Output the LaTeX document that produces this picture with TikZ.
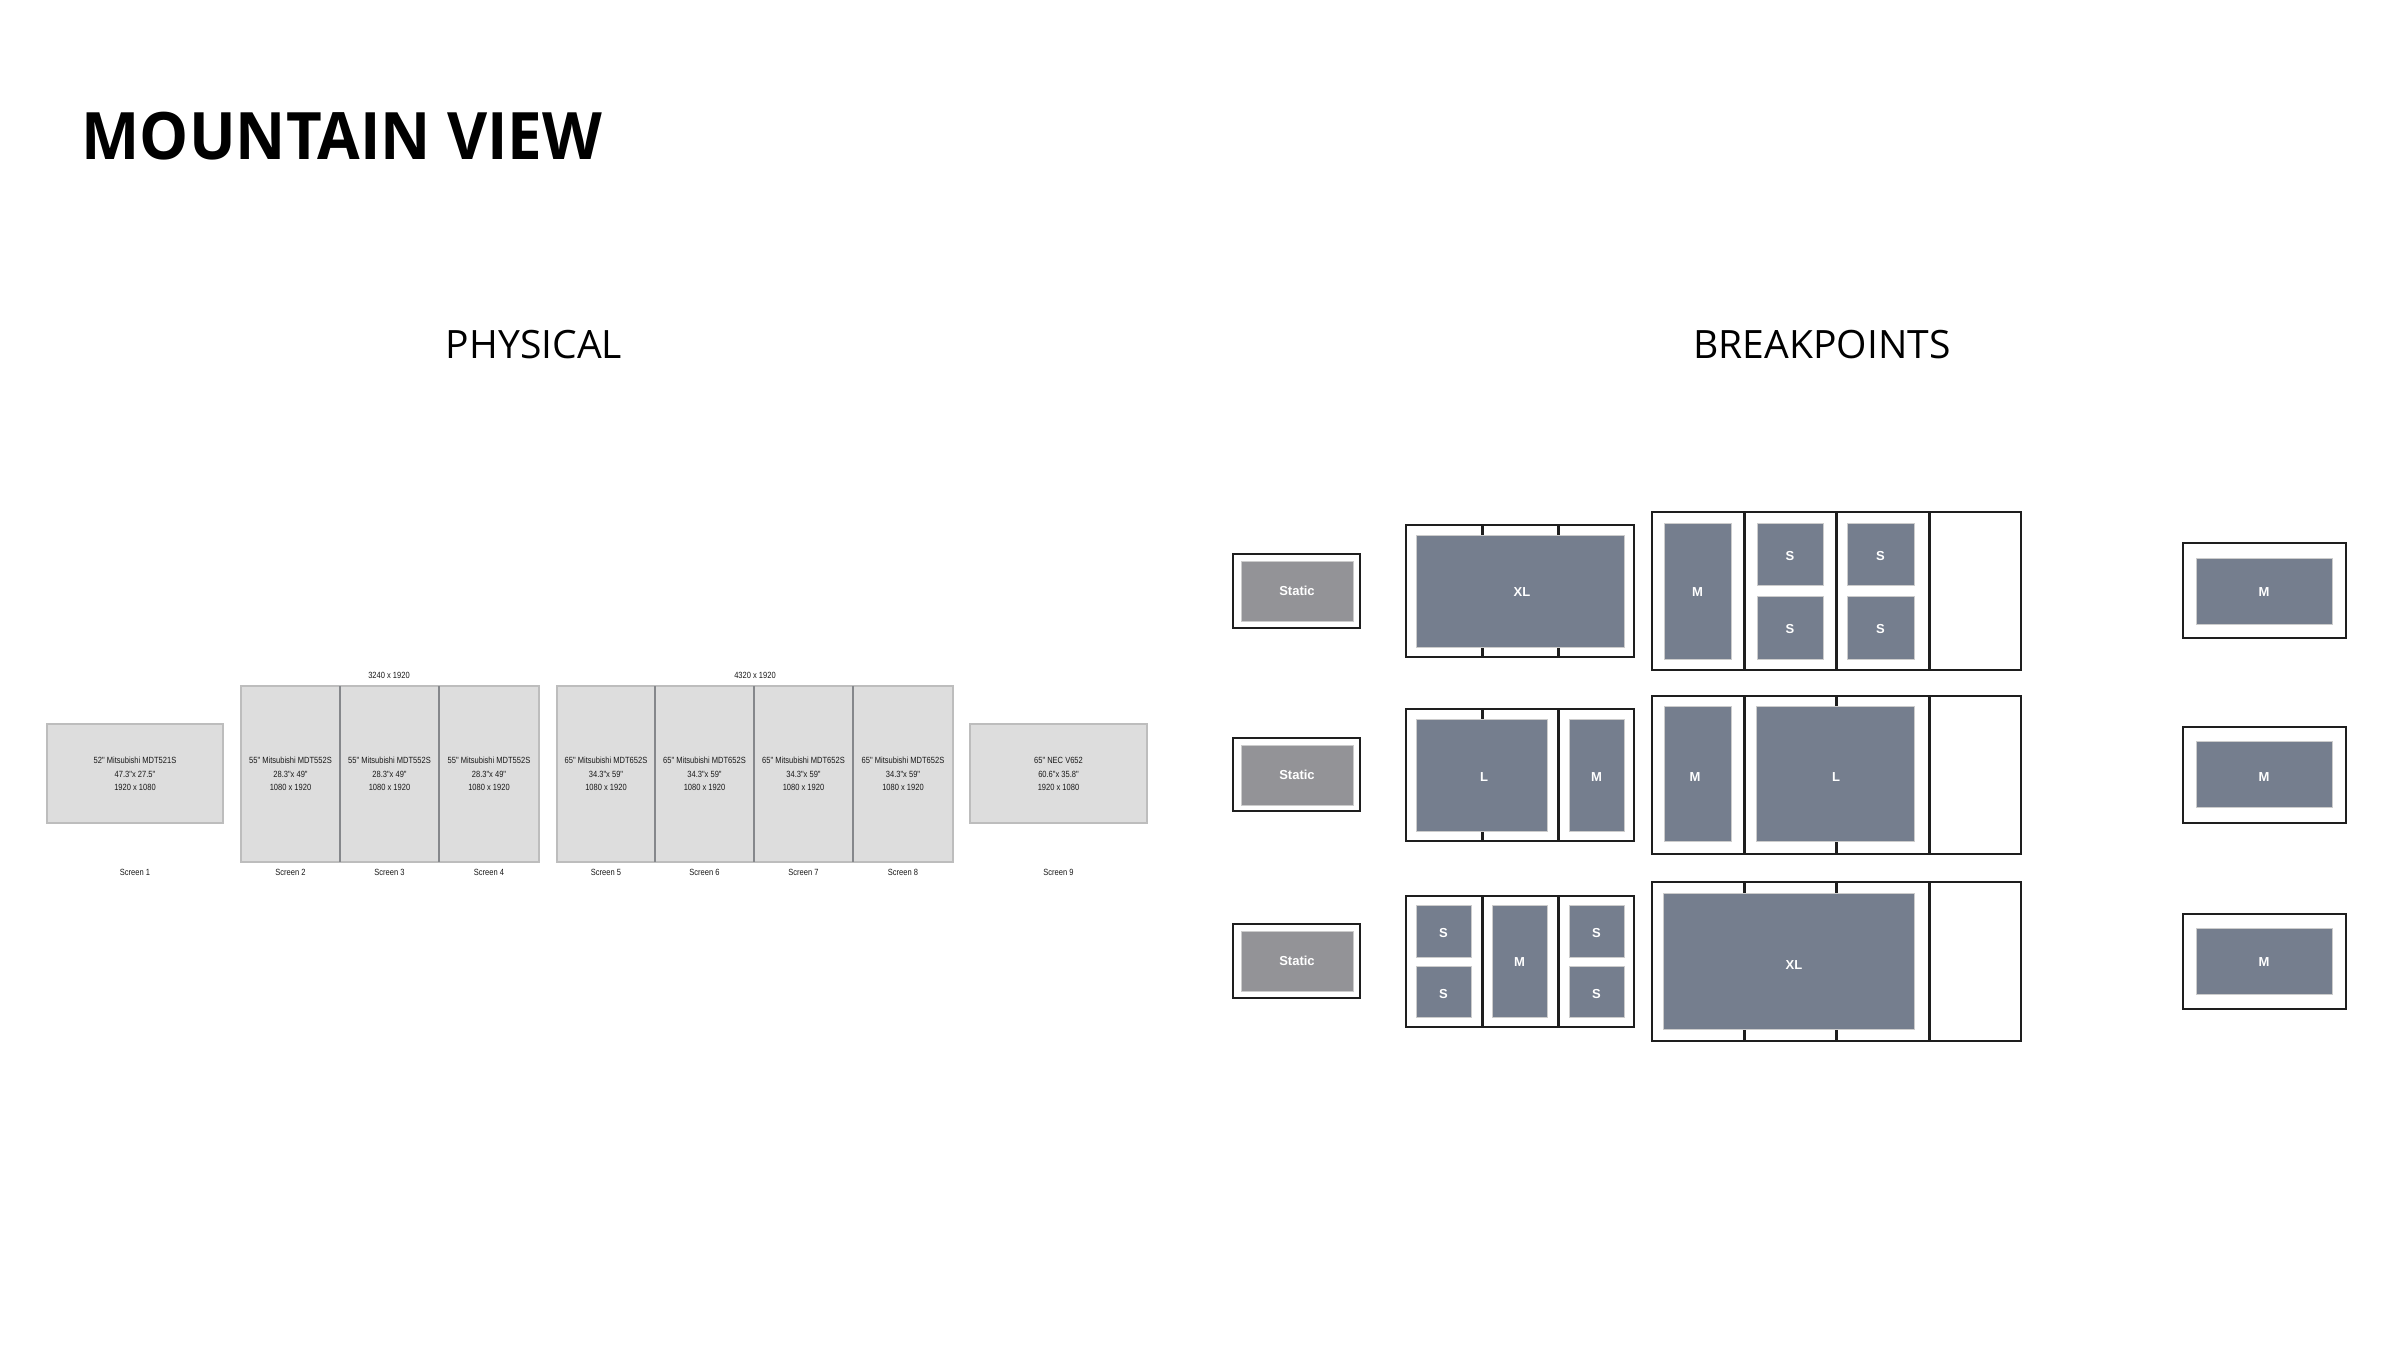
\documentclass[tikz,border=0pt]{standalone}
\usepackage{fontspec}
\setmainfont{Open Sans}
\newfontfamily\labfont{Liberation Sans}
\newfontfamily\narrowfont[FakeStretch=0.84]{Liberation Sans}
\definecolor{scrfill}{HTML}{DDDDDD}
\definecolor{scrline}{HTML}{BDBDBD}
\definecolor{scrdivc}{HTML}{85878B}
\definecolor{bpblue}{HTML}{757E8E}
\definecolor{statgray}{HTML}{939397}
\definecolor{frame}{HTML}{1E1E1E}
\tikzset{
  scr/.style={fill=scrfill, draw=scrline, line width=0.35pt},
  scrdiv/.style={draw=scrdivc, line width=0.35pt},
  spec/.style={font=\narrowfont\fontsize{2.55}{3.85}\selectfont, align=center, inner sep=0pt, text=black!90},
  small/.style={font=\narrowfont\fontsize{2.55}{3}\selectfont, inner sep=0pt, text=black!90},
  bpout/.style={draw=frame, fill=white, line width=0.5pt},
  bpdiv/.style={draw=frame, line width=0.85pt},
  bpin/.style={fill=bpblue, draw=black!20, line width=0.15pt},
  stin/.style={fill=statgray, draw=black!20, line width=0.15pt},
  bplab/.style={font=\labfont\bfseries\fontsize{3.7}{4}\selectfont, text=white, inner sep=0pt},
  head/.style={font=\fontsize{11.1}{13}\selectfont, inner sep=0pt, anchor=base}
}
\begin{document}
\begin{tikzpicture}[x=0.01cm, y=-0.01cm]
\useasboundingbox (0,0) rectangle (2400,1350);
\fill[white] (0,0) rectangle (2400,1350);

% titles
\node[anchor=base west, inner sep=0pt, font=\bfseries\fontsize{18.6}{21}\selectfont] (title) at (81,159) {\scalebox{0.945}[1]{MOUNTAIN VIEW}};
\node[head] (phys) at (534,358) {PHYSICAL};
\node[head] (bkp) at (1822,358) {BREAKPOINTS};

% ---------------- physical ----------------
\draw[scr] (47,724) rectangle (223,823);
\node[spec] (s1) at (135,774) {52" Mitsubishi MDT521S\\47.3"x 27.5"\\1920 x 1080};
\node[small] (l1) at (135,872) {Screen 1};

\draw[scr] (241,686) rectangle (539,862);
\draw[scrdiv] (340,686) -- (340,862);
\draw[scrdiv] (439,686) -- (439,862);
\node[small] (g1) at (389,675) {3240 x 1920};
\node[spec] (s2) at (290.5,774) {55" Mitsubishi MDT552S\\28.3"x 49"\\1080 x 1920};
\node[spec] (s3) at (389.5,774) {55" Mitsubishi MDT552S\\28.3"x 49"\\1080 x 1920};
\node[spec] (s4) at (489,774) {55" Mitsubishi MDT552S\\28.3"x 49"\\1080 x 1920};
\node[small] (l2) at (290.5,872) {Screen 2};
\node[small] (l3) at (389.5,872) {Screen 3};
\node[small] (l4) at (489,872) {Screen 4};

\draw[scr] (557,686) rectangle (953,862);
\draw[scrdiv] (655,686) -- (655,862);
\draw[scrdiv] (754,686) -- (754,862);
\draw[scrdiv] (853,686) -- (853,862);
\node[small] (g2) at (755,675) {4320 x 1920};
\node[spec] (s5) at (606,774) {65" Mitsubishi MDT652S\\34.3"x 59"\\1080 x 1920};
\node[spec] (s6) at (704.5,774) {65" Mitsubishi MDT652S\\34.3"x 59"\\1080 x 1920};
\node[spec] (s7) at (803.5,774) {65" Mitsubishi MDT652S\\34.3"x 59"\\1080 x 1920};
\node[spec] (s8) at (903,774) {65" Mitsubishi MDT652S\\34.3"x 59"\\1080 x 1920};
\node[small] (l5) at (606,872) {Screen 5};
\node[small] (l6) at (704.5,872) {Screen 6};
\node[small] (l7) at (803.5,872) {Screen 7};
\node[small] (l8) at (903,872) {Screen 8};

\draw[scr] (970,724) rectangle (1147,823);
\node[spec] (s9) at (1058.5,774) {65" NEC V652\\60.6"x 35.8"\\1920 x 1080};
\node[small] (l9) at (1058.5,872) {Screen 9};

% ---------------- breakpoints: static ----------------
\draw[bpout] (1233,554) rectangle (1360,628);
\draw[stin] (1241,561) rectangle (1353,621);
\node[bplab] (st1) at (1297,591) {Static};
\draw[bpout] (1233,738) rectangle (1360,811);
\draw[stin] (1241,745) rectangle (1353,805);
\node[bplab] (st2) at (1297,775) {Static};
\draw[bpout] (1233,924) rectangle (1360,998);
\draw[stin] (1241,931) rectangle (1353,991);
\node[bplab] (st3) at (1297,961) {Static};

% ---------------- 3-screen panels ----------------
% row 1
\draw[bpout] (1406,525) rectangle (1634,657);
\draw[bpdiv] (1482,525) -- (1482,657);
\draw[bpdiv] (1558,525) -- (1558,657);
\draw[bpin] (1416,535) rectangle (1624,647);
\node[bplab] (a1) at (1522,592) {XL};
% row 2
\draw[bpout] (1406,709) rectangle (1634,841);
\draw[bpdiv] (1482,709) -- (1482,841);
\draw[bpdiv] (1558,709) -- (1558,841);
\draw[bpin] (1416,719) rectangle (1547,831);
\draw[bpin] (1569,719) rectangle (1624,831);
\node[bplab] (a2) at (1484,777) {L};
\node[bplab] (a3) at (1596.5,777) {M};
% row 3
\draw[bpout] (1406,896) rectangle (1634,1027);
\draw[bpdiv] (1482,896) -- (1482,1027);
\draw[bpdiv] (1558,896) -- (1558,1027);
\draw[bpin] (1416,905) rectangle (1471,957);
\draw[bpin] (1416,966) rectangle (1471,1017);
\draw[bpin] (1492,905) rectangle (1547,1017);
\draw[bpin] (1569,905) rectangle (1624,957);
\draw[bpin] (1569,966) rectangle (1624,1017);
\node[bplab] (a4) at (1443.5,933) {S};
\node[bplab] (a5) at (1443.5,994) {S};
\node[bplab] (a6) at (1519.5,962) {M};
\node[bplab] (a7) at (1596.5,933) {S};
\node[bplab] (a8) at (1596.5,994) {S};

% ---------------- 4-screen panels ----------------
% row 1
\draw[bpout] (1652,512) rectangle (2021,670);
\draw[bpdiv] (1744,512) -- (1744,670);
\draw[bpdiv] (1836,512) -- (1836,670);
\draw[bpdiv] (1929,512) -- (1929,670);
\draw[bpin] (1664,523) rectangle (1731,659);
\draw[bpin] (1757,523) rectangle (1823,585);
\draw[bpin] (1757,596) rectangle (1823,659);
\draw[bpin] (1847,523) rectangle (1914,585);
\draw[bpin] (1847,596) rectangle (1914,659);
\node[bplab] (b1) at (1697.5,592) {M};
\node[bplab] (b2) at (1790,556) {S};
\node[bplab] (b3) at (1790,629) {S};
\node[bplab] (b4) at (1880.5,556) {S};
\node[bplab] (b5) at (1880.5,629) {S};
% row 2
\draw[bpout] (1652,696) rectangle (2021,854);
\draw[bpdiv] (1744,696) -- (1744,854);
\draw[bpdiv] (1836,696) -- (1836,854);
\draw[bpdiv] (1929,696) -- (1929,854);
\draw[bpin] (1664,706) rectangle (1731,841);
\draw[bpin] (1756,706) rectangle (1914,841);
\node[bplab] (b6) at (1695,777) {M};
\node[bplab] (b7) at (1836,777) {L};
% row 3
\draw[bpout] (1652,882) rectangle (2021,1041);
\draw[bpdiv] (1744,882) -- (1744,1041);
\draw[bpdiv] (1836,882) -- (1836,1041);
\draw[bpdiv] (1929,882) -- (1929,1041);
\draw[bpin] (1663,893) rectangle (1914,1029);
\node[bplab] (b8) at (1794,965) {XL};

% ---------------- right single screens ----------------
\draw[bpout] (2183,543) rectangle (2346,638);
\draw[bpin] (2196,558) rectangle (2332,624);
\node[bplab] (c1) at (2264,592) {M};
\draw[bpout] (2183,727) rectangle (2346,823);
\draw[bpin] (2196,741) rectangle (2332,807);
\node[bplab] (c2) at (2264,777) {M};
\draw[bpout] (2183,914) rectangle (2346,1009);
\draw[bpin] (2196,928) rectangle (2332,994);
\node[bplab] (c3) at (2264,962) {M};
\end{tikzpicture}
\end{document}
